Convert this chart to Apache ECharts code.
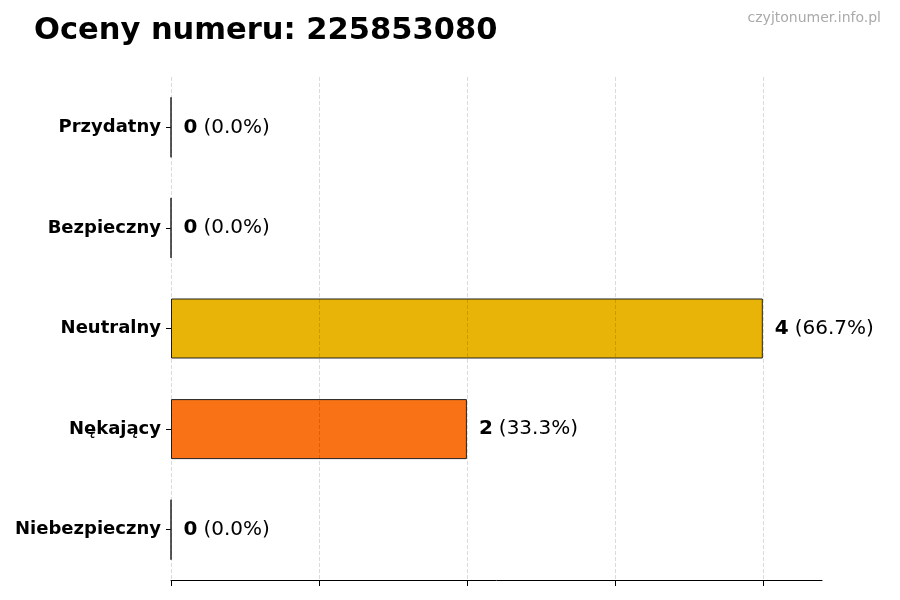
<!DOCTYPE html>
<html>
<head>
<meta charset="utf-8">
<script src="https://cdn.jsdelivr.net/npm/echarts@6/dist/echarts.min.js"></script>
<style>html,body{margin:0;padding:0;background:#fff}#main{width:900px;height:600px}</style>
</head>
<body>
<div id="main"></div>
<script>
var categories = ['Przydatny', 'Bezpieczny', 'Neutralny', 'Nękający', 'Niebezpieczny'];
var values = [0, 0, 4, 2, 0];
var percents = ['0.0', '0.0', '66.7', '33.3', '0.0'];
var colors = ['#22c55e', '#3b82f6', '#e8b407', '#f97316', '#ef4444'];
var xTicks = [0, 1, 2, 3, 4];

var chartDom = document.getElementById('main');
var myChart = echarts.init(chartDom);
var option;

option = {
	animation: false,
	textStyle: { fontFamily: 'DejaVu Sans' },
	title: [{
		text: 'Oceny numeru: 225853080',
		left: 29,
		top: 11,
		textStyle: { fontSize: 30.5, fontWeight: 'bold', color: '#000' }
	}, {
		text: 'czyjtonumer.info.pl',
		right: 14,
		top: 6,
		textStyle: { fontSize: 14, fontWeight: 'normal', color: '#aaaaaa' }
	}],
	grid: { left: 171, right: 78, top: 77, bottom: 20, containLabel: false },
	xAxis: {
		type: 'value',
		min: 0,
		max: 4.4,
		interval: 1,
		z: 3,
		axisLine: { show: true, lineStyle: { color: '#000', width: 1 } },
		axisTick: { show: true, length: 6, customValues: xTicks, lineStyle: { color: '#000' } },
		axisLabel: { show: false },
		splitLine: { show: true, lineStyle: { type: 'dashed', color: 'rgba(0,0,0,0.14)' } }
	},
	yAxis: {
		type: 'category',
		inverse: true,
		data: categories,
		axisLine: { show: false },
		axisTick: { show: true, alignWithLabel: true, length: 5, lineStyle: { color: '#000' } },
		axisLabel: { fontSize: 18, fontWeight: 'bold', color: '#000', margin: 10 }
	},
	series: [{
		type: 'bar',
		barWidth: 60,
		z: 1,
		data: values.map(function (v, i) {
			return {
				value: v,
				itemStyle: { color: colors[i], opacity: 1, borderColor: '#222', borderWidth: 1 }
			};
		}),
		label: {
			show: true,
			position: 'right',
			distance: 12,
			formatter: function (p) {
				return '{b|' + values[p.dataIndex] + '}{s| }{n|(' + percents[p.dataIndex] + '%)}';
			},
			rich: {
				b: { fontSize: 20, fontWeight: 'bold', color: '#000' },
				s: { fontSize: 20, width: 6 },
				n: { fontSize: 20, color: '#000' }
			}
		}
	}]
};

option && myChart.setOption(option);
</script>
</body>
</html>
